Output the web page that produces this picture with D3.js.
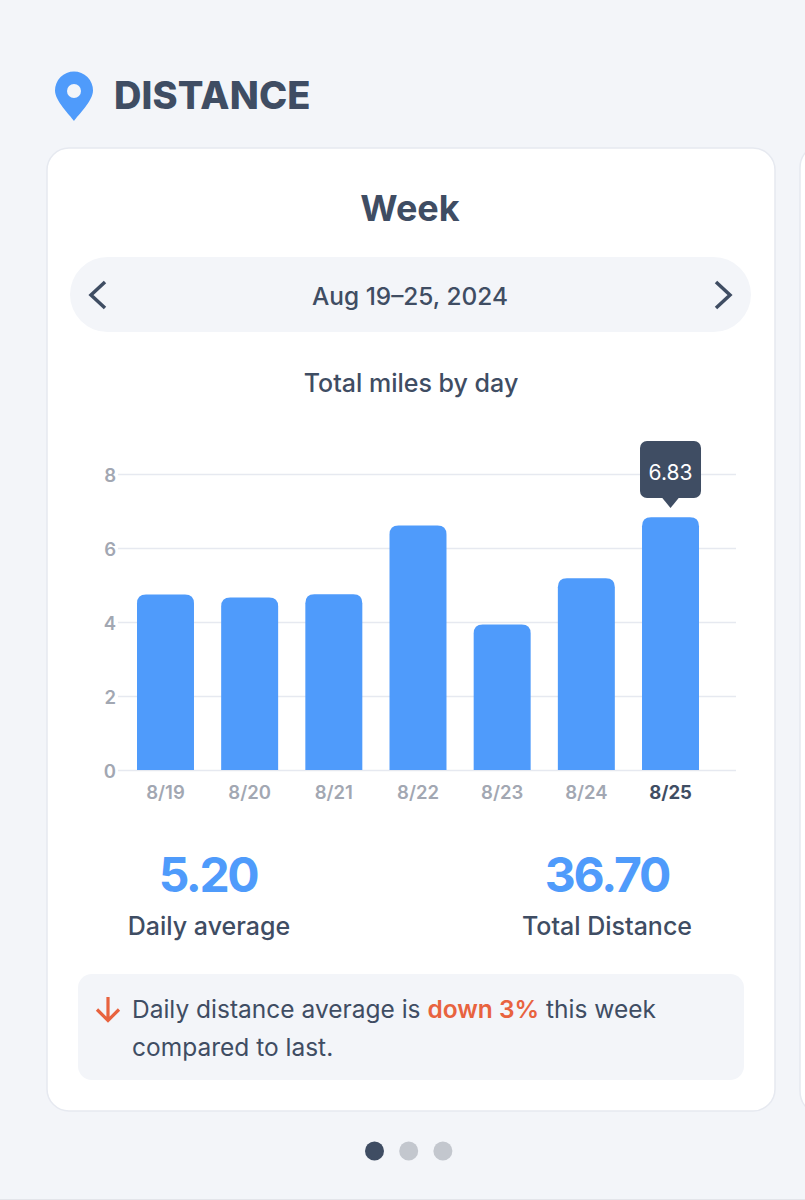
<!DOCTYPE html>
<meta charset="utf-8">
<style>
html, body { margin: 0; padding: 0; background: #f3f5f9; }
svg { display: block; }
text { font-family: Inter, sans-serif; fill: #3f4d63; }
</style>
<body>
<script src="https://d3js.org/d3.v7.min.js"></script>
<div id="chart"></div>
<script>
var days = ['8/19', '8/20', '8/21', '8/22', '8/23', '8/24', '8/25'];
var miles = [4.74, 4.66, 4.75, 6.61, 3.93, 5.18, 6.83];
var yTicks = [0, 2, 4, 6, 8];
var dots = [0, 1, 2];

var ink = '#3f4d63', blue = '#4f9bfb', page = '#f3f5f9', rule = '#e6e9f0', muted = '#a2a7b2', red = '#e8633f';

var svg = d3.select('#chart').append('svg').attr('width', 805).attr('height', 1200);

function label(x, y, str, size, weight, anchor, color) {
    return svg.append('text').attr('x', x).attr('y', y).text(str)
        .style('font-size', size + 'px').style('font-weight', weight)
        .style('text-anchor', anchor || 'start').style('fill', color || ink);
}

// neighbouring card edge and the bottom hairline
svg.append('rect').attr('x', 800).attr('y', 148).attr('width', 30).attr('height', 963).attr('rx', 20)
    .attr('fill', '#fff').attr('stroke', rule).attr('stroke-width', 1.5);
svg.append('line').attr('x1', 0).attr('x2', 805).attr('y1', 1199.5).attr('y2', 1199.5).attr('stroke', '#e3e5ea');

// header
svg.append('path')
    .attr('d', 'M74 121 C70 115 55 101 55 90.5 A19 19 0 0 1 93 90.5 C93 101 78 115 74 121 Z')
    .attr('fill', blue);
svg.append('circle').attr('cx', 74).attr('cy', 91).attr('r', 7).attr('fill', page);
label(114, 109, 'DISTANCE', 38, 800).style('letter-spacing', '0.15px');

// card
svg.append('rect').attr('x', 47).attr('y', 148).attr('width', 728).attr('height', 963).attr('rx', 22)
    .attr('fill', '#fff').attr('stroke', rule).attr('stroke-width', 1.5);
label(410, 221, 'Week', 36, 700, 'middle');

// date selector
svg.append('rect').attr('x', 70).attr('y', 257).attr('width', 681).attr('height', 75).attr('rx', 37.5).attr('fill', page);
svg.append('path').attr('d', 'M105 282 L91 295 L105 308').attr('fill', 'none').attr('stroke', ink).attr('stroke-width', 3.5);
svg.append('path').attr('d', 'M716 282 L730 295 L716 308').attr('fill', 'none').attr('stroke', ink).attr('stroke-width', 3.5);
label(410, 304.5, 'Aug 19\u201325, 2024', 24.4, 500, 'middle');
label(411, 391.5, 'Total miles by day', 25, 500, 'middle');

// chart
var x = d3.scaleBand().domain(days).range([137, 699]).paddingInner(0.323).paddingOuter(0);
var y = d3.scaleLinear().domain([0, 8]).range([770, 474]);

var yAxis = d3.axisLeft(y).tickValues(yTicks).tickSize(0).tickPadding(0);
var gy = svg.append('g').attr('transform', 'translate(118,0)').call(yAxis);
gy.select('.domain').remove();
gy.selectAll('line').attr('x2', 618).attr('stroke', rule).attr('stroke-width', 1.6);
gy.selectAll('text').attr('x', -2).attr('dy', '0.4em').style('font-size', '18.5px').style('font-weight', 600).style('fill', muted).style('font-family', 'Inter, sans-serif');

svg.append('g').selectAll('path').data(days).join('path')
    .attr('fill', blue)
    .attr('d', function (d, i) {
        var x0 = x(d), x1 = x0 + x.bandwidth(), top = y(miles[i]), r = 9;
        return 'M' + x0 + ' ' + y(0) + 'V' + (top + r) + 'Q' + x0 + ' ' + top + ' ' + (x0 + r) + ' ' + top +
            'H' + (x1 - r) + 'Q' + x1 + ' ' + top + ' ' + x1 + ' ' + (top + r) + 'V' + y(0) + 'Z';
    });

var xAxis = d3.axisBottom(x).tickSize(0).tickPadding(0);
var gx = svg.append('g').attr('transform', 'translate(0,770)').call(xAxis);
gx.select('.domain').remove();
gx.selectAll('text').attr('y', 29).attr('dy', 0).style('font-size', '18.5px').style('font-weight', 600)
    .style('font-family', 'Inter, sans-serif')
    .style('fill', function (d) { return d === '8/25' ? ink : muted; });
gx.selectAll('text').filter(function (d) { return d === '8/25'; }).style('font-weight', 700);

// tooltip on the last day
var last = days.length - 1, tipX = x(days[last]) + x.bandwidth() / 2;
svg.append('rect').attr('x', tipX - 30.5).attr('y', 441).attr('width', 61).attr('height', 57).attr('rx', 7).attr('fill', ink);
svg.append('path').attr('d', 'M' + (tipX - 9) + ' 497 L' + tipX + ' 508 L' + (tipX + 9) + ' 497 Z').attr('fill', ink);
label(tipX, 480, miles[last].toFixed(2), 21, 400, 'middle', '#fff');

// summary figures
label(208, 892, '5.20', 48, 700, 'middle', blue).style('letter-spacing', '-2.4px');
label(209, 935, 'Daily average', 25, 500, 'middle');
label(607, 892, '36.70', 48, 700, 'middle', blue).style('letter-spacing', '-2.1px');
label(607, 935, 'Total Distance', 25, 500, 'middle');

// note
svg.append('rect').attr('x', 78).attr('y', 974).attr('width', 666).attr('height', 106).attr('rx', 14).attr('fill', page);
svg.append('path').attr('d', 'M108 997 V1020 M97 1009.5 L108 1020.5 L119 1009.5')
    .attr('fill', 'none').attr('stroke', red).attr('stroke-width', 3.2);
var note = label(132, 1018, 'Daily distance average is ', 24.5, 400);
note.append('tspan').text('down 3%').style('fill', red).style('font-weight', 600);
note.append('tspan').text(' this week');
label(132, 1056, 'compared to last.', 24.5, 400);

// pager
svg.append('g').selectAll('circle').data(dots).join('circle')
    .attr('cx', function (d) { return 374.5 + d * 34.2; }).attr('cy', 1151).attr('r', 9.5)
    .attr('fill', function (d) { return d === 0 ? ink : '#c3c7ce'; });
</script>
</body>
